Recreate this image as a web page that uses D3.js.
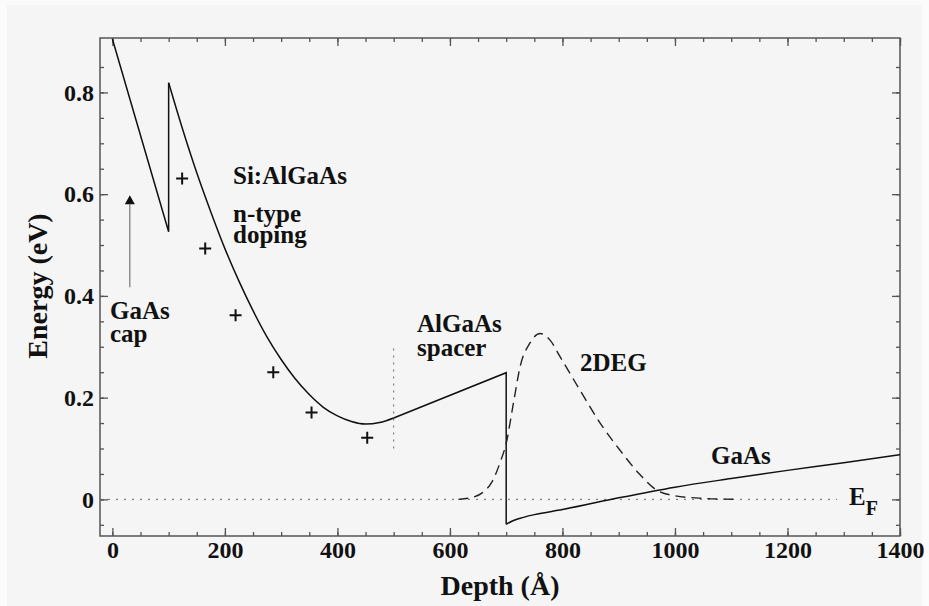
<!doctype html>
<meta charset="utf-8">
<title>Band diagram</title>
<style>
body { margin: 0; background: #fbfbfb; }
</style>
<script src="https://d3js.org/d3.v7.min.js"></script>
<body>
<script>
// conduction band edge
var capDepth = [0, 100, 100];
var capEnergy = [0.905, 0.526, 0.819];
var dopedDepth = [100, 125, 150, 175, 200, 225, 250, 275, 300, 325, 350, 375, 400, 425, 450, 475, 500];
var dopedEnergy = [0.819, 0.727, 0.642, 0.565, 0.493, 0.429, 0.371, 0.319, 0.275, 0.237, 0.206, 0.181, 0.164, 0.153, 0.148, 0.151, 0.160];
var spacerDepth = [500, 700, 700];
var spacerEnergy = [0.160, 0.249, -0.049];
var wellDepth = [700, 710, 725, 750, 800, 900, 1000, 1100, 1200, 1300, 1400];
var wellEnergy = [-0.049, -0.043, -0.037, -0.030, -0.020, 0.003, 0.024, 0.041, 0.057, 0.072, 0.088];

// 2DEG density (dashed)
var degDepth = [615, 640, 660, 675, 690, 700, 713, 725, 742, 760, 778, 796, 831, 867, 902, 935, 965, 1000, 1050, 1110];
var degValue = [0.000, 0.004, 0.015, 0.035, 0.075, 0.110, 0.190, 0.262, 0.307, 0.326, 0.313, 0.280, 0.215, 0.150, 0.097, 0.052, 0.020, 0.007, 0.002, 0.000];

// donor markers
var donorDepth = [124, 165, 219, 286, 354, 453];
var donorEnergy = [0.631, 0.493, 0.362, 0.250, 0.171, 0.121];

var xTicks = [0, 200, 400, 600, 800, 1000, 1200, 1400];
var yTicks = [0, 0.2, 0.4, 0.6, 0.8];

var serif = "'Liberation Serif', 'Times New Roman', Times, serif";

var width = 929, height = 606;
var svg = d3.select("body").append("svg")
    .attr("width", width)
    .attr("height", height)
    .attr("font-family", serif)
    .attr("font-weight", "bold");

svg.append("rect")
    .attr("x", 7).attr("y", 5)
    .attr("width", 915).attr("height", 601)
    .attr("fill", "#f5f5f5");

var x = d3.scaleLinear().domain([-22, 1400]).range([100, 900]);
var y = d3.scaleLinear().domain([-0.072, 0.907]).range([536, 38]);

function zip(a, b) { return a.map(function(d, i) { return [d, b[i]]; }); }

var straight = d3.line().x(function(d) { return x(d[0]); }).y(function(d) { return y(d[1]); });
var smooth = d3.line().x(function(d) { return x(d[0]); }).y(function(d) { return y(d[1]); }).curve(d3.curveMonotoneX);

// axes with inward ticks on all four sides
var minorX = d3.range(0, 1401, 50);
var minorY = d3.range(-0.05, 0.9, 0.05);

function tidy(g) {
  g.select(".domain").remove();
  g.attr("font-family", serif).attr("font-size", 24);
  g.selectAll(".tick line").attr("stroke", "#555").attr("stroke-width", 1.3);
  g.selectAll(".tick text").attr("fill", "#111");
}

svg.append("g").attr("transform", "translate(0,536)")
    .call(d3.axisBottom(x).tickValues(minorX).tickSize(-4).tickFormat("")).call(tidy);
svg.append("g").attr("transform", "translate(0,536)")
    .call(d3.axisBottom(x).tickValues(xTicks).tickSize(-8).tickPadding(5).tickFormat(d3.format("d"))).call(tidy);
svg.append("g").attr("transform", "translate(0,38)")
    .call(d3.axisTop(x).tickValues(minorX).tickSize(-4).tickFormat("")).call(tidy);
svg.append("g").attr("transform", "translate(0,38)")
    .call(d3.axisTop(x).tickValues(xTicks).tickSize(-8).tickFormat("")).call(tidy);

svg.append("g").attr("transform", "translate(100,0)")
    .call(d3.axisLeft(y).tickValues(minorY).tickSize(-4).tickFormat("")).call(tidy);
svg.append("g").attr("transform", "translate(100,0)")
    .call(d3.axisLeft(y).tickValues(yTicks).tickSize(-8).tickPadding(6).tickFormat(function(d) { return d === 0 ? "0" : d3.format(".1f")(d); })).call(tidy);
svg.append("g").attr("transform", "translate(900,0)")
    .call(d3.axisRight(y).tickValues(minorY).tickSize(-4).tickFormat("")).call(tidy);
svg.append("g").attr("transform", "translate(900,0)")
    .call(d3.axisRight(y).tickValues(yTicks).tickSize(-8).tickFormat("")).call(tidy);

svg.append("rect")
    .attr("x", 100).attr("y", 38)
    .attr("width", 800).attr("height", 498)
    .attr("fill", "none").attr("stroke", "#555").attr("stroke-width", 1.5);

// Fermi level and spacer boundary
svg.append("line")
    .attr("x1", 100).attr("x2", x(1288))
    .attr("y1", y(0)).attr("y2", y(0))
    .attr("stroke", "#666").attr("stroke-width", 1).attr("stroke-dasharray", "2,6");
svg.append("line")
    .attr("x1", x(500)).attr("x2", x(500))
    .attr("y1", y(0.1)).attr("y2", y(0.297))
    .attr("stroke", "#666").attr("stroke-width", 1).attr("stroke-dasharray", "2,5");

// band edge
var band = svg.append("g").attr("fill", "none").attr("stroke", "#111").attr("stroke-width", 1.5);
band.append("path").attr("d", straight(zip(capDepth, capEnergy)));
band.append("path").attr("d", smooth(zip(dopedDepth, dopedEnergy)));
band.append("path").attr("d", straight(zip(spacerDepth, spacerEnergy)));
band.append("path").attr("d", smooth(zip(wellDepth, wellEnergy)));

// 2DEG
svg.append("path")
    .attr("d", smooth(zip(degDepth, degValue)))
    .attr("fill", "none").attr("stroke", "#222").attr("stroke-width", 1.4)
    .attr("stroke-dasharray", "10,6");

// donors
svg.selectAll("path.donor")
    .data(zip(donorDepth, donorEnergy))
  .enter().append("path")
    .attr("class", "donor")
    .attr("transform", function(d) { return "translate(" + x(d[0]) + "," + y(d[1]) + ")"; })
    .attr("d", "M-6,0H6M0,-6V6")
    .attr("stroke", "#111").attr("stroke-width", 2);

// arrow to the cap
svg.append("line")
    .attr("x1", x(31)).attr("x2", x(31))
    .attr("y1", y(0.417)).attr("y2", y(0.58))
    .attr("stroke", "#777").attr("stroke-width", 1.2);
svg.append("path")
    .attr("d", "M" + (x(31) - 5) + "," + (y(0.598) + 9) + "L" + x(31) + "," + y(0.598) + "L" + (x(31) + 5) + "," + (y(0.598) + 9) + "Z")
    .attr("fill", "#111");

// labels
var labels = [
  ["Si:AlGaAs", 233, 184],
  ["n-type", 233, 222],
  ["doping", 233, 243],
  ["GaAs", 110, 319],
  ["cap", 110, 342],
  ["AlGaAs", 417, 332],
  ["spacer", 417, 356],
  ["2DEG", 580, 371],
  ["GaAs", 711, 464]
];
svg.selectAll("text.label")
    .data(labels)
  .enter().append("text")
    .attr("class", "label")
    .attr("x", function(d) { return d[1]; })
    .attr("y", function(d) { return d[2]; })
    .attr("font-size", 25)
    .attr("fill", "#111")
    .text(function(d) { return d[0]; });

var ef = svg.append("text").attr("x", 849).attr("y", 505).attr("font-size", 25).attr("fill", "#111");
ef.append("tspan").text("E");
ef.append("tspan").attr("dy", 10).attr("font-size", 20).text("F");

svg.append("text")
    .attr("x", 500).attr("y", 595)
    .attr("text-anchor", "middle")
    .attr("font-size", 28)
    .attr("fill", "#111")
    .text("Depth  (\u00C5)");

svg.append("text")
    .attr("transform", "translate(47,286) rotate(-90)")
    .attr("text-anchor", "middle")
    .attr("font-size", 28)
    .attr("fill", "#111")
    .text("Energy  (eV)");
</script>
